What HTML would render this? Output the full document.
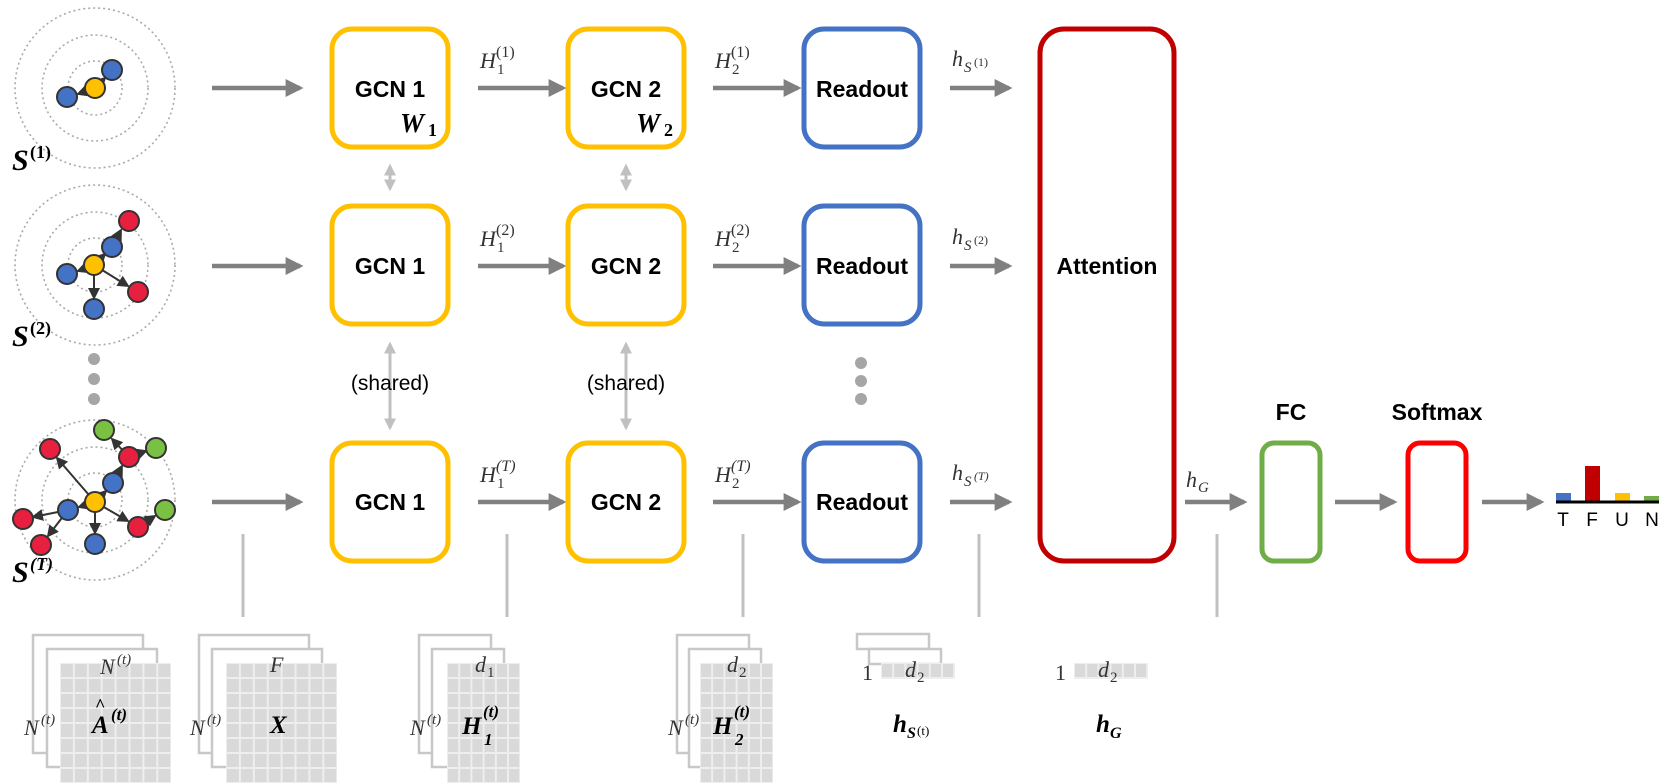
<!DOCTYPE html>
<html><head><meta charset="utf-8"><style>
html,body{margin:0;padding:0;background:#fff;width:1675px;height:783px;overflow:hidden}
svg{display:block}
.b{font-family:"Liberation Sans",sans-serif;font-weight:bold;fill:#000}
.m{font-family:"Liberation Serif",serif;font-style:italic;fill:#333}
.mb{font-family:"Liberation Serif",serif;font-style:italic;font-weight:bold;fill:#000}
.r{font-family:"Liberation Sans",sans-serif;fill:#000}
</style></head><body>
<svg width="1675" height="783" viewBox="0 0 1675 783" xmlns="http://www.w3.org/2000/svg">
<defs>
<marker id="ag" markerWidth="4" markerHeight="4" refX="3.2" refY="2" orient="auto"><path d="M0,0 L4,2 L0,4z" fill="#808080"/></marker>
<marker id="al" markerWidth="4" markerHeight="4" refX="3.2" refY="2" orient="auto-start-reverse"><path d="M0,0 L4,2 L0,4z" fill="#c0c0c0"/></marker>
<marker id="ad" markerWidth="6" markerHeight="6" refX="5" refY="3" orient="auto"><path d="M0,0 L6,3 L0,6z" fill="#333"/></marker>
<pattern id="grid" width="13.9" height="15" patternUnits="userSpaceOnUse"><rect x="1" y="1" width="11.9" height="13" fill="#d9d9d9"/></pattern>
<pattern id="grid2" width="12.2" height="15" patternUnits="userSpaceOnUse"><rect x="1" y="1" width="10.2" height="13" fill="#d9d9d9"/></pattern>
</defs>

<g fill="none" stroke="#aaa" stroke-width="1.6" stroke-dasharray="2,3">
<circle cx="95" cy="88" r="27"/><circle cx="95" cy="88" r="53"/><circle cx="95" cy="88" r="80"/>
<circle cx="95" cy="265" r="27"/><circle cx="95" cy="265" r="53"/><circle cx="95" cy="265" r="80"/>
<circle cx="95" cy="500" r="27"/><circle cx="95" cy="500" r="53"/><circle cx="95" cy="500" r="80"/>
</g>
<g stroke="#333" stroke-width="2" marker-end="url(#ad)">
<line x1="95" y1="88" x2="105" y2="78"/><line x1="95" y1="88" x2="78" y2="94"/>
<line x1="94" y1="265" x2="105" y2="254"/><line x1="112" y1="247" x2="121" y2="230"/><line x1="94" y1="265" x2="78" y2="271"/><line x1="94" y1="265" x2="128" y2="286"/><line x1="94" y1="265" x2="94" y2="298"/>
<line x1="95" y1="502" x2="106" y2="491"/><line x1="113" y1="483" x2="122" y2="466"/><line x1="129" y1="457" x2="112" y2="439"/><line x1="129" y1="457" x2="146" y2="451"/><line x1="95" y1="502" x2="57" y2="458"/><line x1="95" y1="502" x2="79" y2="507"/><line x1="68" y1="510" x2="33" y2="517"/><line x1="68" y1="510" x2="48" y2="536"/><line x1="95" y1="502" x2="95" y2="533"/><line x1="95" y1="502" x2="128" y2="521"/><line x1="138" y1="527" x2="155" y2="516"/>
</g>
<g stroke="#333" stroke-width="2">
<circle cx="95" cy="88" r="10" fill="#ffc000"/><circle cx="112" cy="70" r="10" fill="#4472c4"/><circle cx="67" cy="97" r="10" fill="#4472c4"/>
<circle cx="94" cy="265" r="10" fill="#ffc000"/><circle cx="112" cy="247" r="10" fill="#4472c4"/><circle cx="129" cy="221" r="10" fill="#e8203f"/><circle cx="67" cy="274" r="10" fill="#4472c4"/><circle cx="138" cy="292" r="10" fill="#e8203f"/><circle cx="94" cy="309" r="10" fill="#4472c4"/>
<circle cx="95" cy="502" r="10" fill="#ffc000"/><circle cx="113" cy="483" r="10" fill="#4472c4"/><circle cx="129" cy="457" r="10" fill="#e8203f"/><circle cx="104" cy="430" r="10" fill="#7ac143"/><circle cx="156" cy="448" r="10" fill="#7ac143"/><circle cx="50" cy="449" r="10" fill="#e8203f"/><circle cx="68" cy="510" r="10" fill="#4472c4"/><circle cx="23" cy="519" r="10" fill="#e8203f"/><circle cx="41" cy="545" r="10" fill="#e8203f"/><circle cx="95" cy="544" r="10" fill="#4472c4"/><circle cx="138" cy="527" r="10" fill="#e8203f"/><circle cx="165" cy="510" r="10" fill="#7ac143"/>
</g>
<text x="12" y="170" class="mb" font-size="30">S</text><text x="30" y="158" font-family="Liberation Serif" font-weight="bold" font-size="18">(1)</text>
<text x="12" y="346" class="mb" font-size="30">S</text><text x="30" y="334" font-family="Liberation Serif" font-weight="bold" font-size="18">(2)</text>
<text x="12" y="582" class="mb" font-size="30">S</text><text x="30" y="570" font-family="Liberation Serif" font-weight="bold" font-style="italic" font-size="18">(T)</text>
<g fill="#a6a6a6"><circle cx="94" cy="359" r="6"/><circle cx="94" cy="379" r="6"/><circle cx="94" cy="399" r="6"/>
<circle cx="861" cy="363" r="6"/><circle cx="861" cy="381" r="6"/><circle cx="861" cy="399" r="6"/></g>

<g stroke="#808080" stroke-width="4.5" marker-end="url(#ag)">
<line x1="212" y1="88" x2="300" y2="88"/><line x1="212" y1="266" x2="300" y2="266"/><line x1="212" y1="502" x2="300" y2="502"/>
<line x1="478" y1="88" x2="563" y2="88"/><line x1="478" y1="266" x2="563" y2="266"/><line x1="478" y1="502" x2="563" y2="502"/>
<line x1="713" y1="88" x2="798" y2="88"/><line x1="713" y1="266" x2="798" y2="266"/><line x1="713" y1="502" x2="798" y2="502"/>
<line x1="950" y1="88" x2="1009" y2="88"/><line x1="950" y1="266" x2="1009" y2="266"/><line x1="950" y1="502" x2="1009" y2="502"/>
<line x1="1185" y1="502" x2="1244" y2="502"/><line x1="1335" y1="502" x2="1394" y2="502"/><line x1="1482" y1="502" x2="1541" y2="502"/>
</g>
<g stroke="#c0c0c0" stroke-width="3" marker-start="url(#al)" marker-end="url(#al)">
<line x1="390" y1="166" x2="390" y2="189"/><line x1="626" y1="166" x2="626" y2="189"/>
<line x1="390" y1="344" x2="390" y2="428"/><line x1="626" y1="344" x2="626" y2="428"/>
</g>
<text x="390" y="390" text-anchor="middle" class="r" font-size="21">(shared)</text>
<text x="626" y="390" text-anchor="middle" class="r" font-size="21">(shared)</text>

<g fill="none" stroke-width="5">
<rect x="332" y="29" width="116" height="118" rx="20" stroke="#ffc000"/>
<rect x="332" y="206" width="116" height="118" rx="20" stroke="#ffc000"/>
<rect x="332" y="443" width="116" height="118" rx="20" stroke="#ffc000"/>
<rect x="568" y="29" width="116" height="118" rx="20" stroke="#ffc000"/>
<rect x="568" y="206" width="116" height="118" rx="20" stroke="#ffc000"/>
<rect x="568" y="443" width="116" height="118" rx="20" stroke="#ffc000"/>
<rect x="804" y="29" width="116" height="118" rx="20" stroke="#4472c4"/>
<rect x="804" y="206" width="116" height="118" rx="20" stroke="#4472c4"/>
<rect x="804" y="443" width="116" height="118" rx="20" stroke="#4472c4"/>
<rect x="1040" y="29" width="134" height="532" rx="24" stroke="#c00000"/>
<rect x="1262" y="443" width="58" height="118" rx="12" stroke="#70ad47"/>
<rect x="1408" y="443" width="58" height="118" rx="12" stroke="#ff0000"/>
</g>
<g class="b" font-size="23" text-anchor="middle">
<text x="390" y="97">GCN 1</text><text x="390" y="274">GCN 1</text><text x="390" y="510">GCN 1</text>
<text x="626" y="97">GCN 2</text><text x="626" y="274">GCN 2</text><text x="626" y="510">GCN 2</text>
<text x="862" y="97">Readout</text><text x="862" y="274">Readout</text><text x="862" y="510">Readout</text>
<text x="1107" y="274">Attention</text>
<text x="1291" y="420">FC</text><text x="1437" y="420">Softmax</text>
</g>
<text x="400" y="132" class="mb" font-size="27">W</text><text x="428" y="136" font-family="Liberation Serif" font-weight="bold" font-size="18">1</text>
<text x="636" y="132" class="mb" font-size="27">W</text><text x="664" y="136" font-family="Liberation Serif" font-weight="bold" font-size="18">2</text>

<g class="m" font-size="22">
<text x="480" y="68">H</text><text x="480" y="246">H</text><text x="480" y="482">H</text>
<text x="715" y="68">H</text><text x="715" y="246">H</text><text x="715" y="482">H</text>
<text x="952" y="66">h</text><text x="952" y="244">h</text><text x="952" y="480">h</text>
<text x="1186" y="487">h</text>
</g>
<g font-family="Liberation Serif" font-size="15" fill="#333">
<text x="497" y="74">1</text><text x="497" y="252">1</text><text x="497" y="488">1</text>
<text x="732" y="74">2</text><text x="732" y="252">2</text><text x="732" y="488">2</text>
<text x="496" y="57" font-size="16">(1)</text><text x="496" y="235" font-size="16">(2)</text><text x="496" y="471" font-size="16" font-style="italic">(T)</text>
<text x="731" y="57" font-size="16">(1)</text><text x="731" y="235" font-size="16">(2)</text><text x="731" y="471" font-size="16" font-style="italic">(T)</text>
<text x="964" y="72" font-style="italic">S</text><text x="974" y="66" font-size="12">(1)</text>
<text x="964" y="250" font-style="italic">S</text><text x="974" y="244" font-size="12">(2)</text>
<text x="964" y="486" font-style="italic">S</text><text x="974" y="480" font-size="12" font-style="italic">(T)</text>
<text x="1198" y="492" font-style="italic">G</text>
</g>

<rect x="1556" y="493" width="15" height="9" fill="#4472c4"/>
<rect x="1585" y="466" width="15" height="36" fill="#c00000"/>
<rect x="1615" y="493" width="15" height="9" fill="#ffc000"/>
<rect x="1644" y="496" width="15" height="6" fill="#70ad47"/>
<line x1="1556" y1="502" x2="1659" y2="502" stroke="#000" stroke-width="3"/>
<g class="r" font-size="19" text-anchor="middle"><text x="1563" y="526">T</text><text x="1592" y="526">F</text><text x="1622" y="526">U</text><text x="1652" y="526">N</text></g>

<g stroke="#c0c0c0" stroke-width="3">
<line x1="243" y1="534" x2="243" y2="617"/><line x1="507" y1="534" x2="507" y2="617"/><line x1="743" y1="534" x2="743" y2="617"/><line x1="979" y1="534" x2="979" y2="617"/><line x1="1217" y1="534" x2="1217" y2="617"/>
</g>

<g fill="#fff" stroke="#c8c8c8" stroke-width="2.5">
<rect x="33" y="635" width="110" height="118"/><rect x="47" y="649" width="110" height="118"/>
<rect x="199" y="635" width="110" height="118"/><rect x="212" y="649" width="110" height="118"/>
<rect x="419" y="635" width="72" height="118"/><rect x="432" y="649" width="72" height="118"/>
<rect x="677" y="635" width="72" height="118"/><rect x="689" y="649" width="72" height="118"/>
<rect x="857" y="634" width="72" height="15"/><rect x="869" y="649" width="72" height="15"/>
</g>
<g fill="#eee"><rect x="60" y="663" width="111" height="120"/><rect x="226" y="663" width="111" height="120"/><rect x="447" y="663" width="73" height="120"/><rect x="700" y="663" width="73" height="120"/><rect x="881" y="663" width="74" height="16"/><rect x="1074" y="663" width="74" height="16"/></g>
<rect x="0" y="0" width="111" height="120" fill="url(#grid)" transform="translate(60 663)"/>
<rect x="0" y="0" width="111" height="120" fill="url(#grid)" transform="translate(226 663)"/>
<rect x="0" y="0" width="73" height="120" fill="url(#grid2)" transform="translate(447 663)"/>
<rect x="0" y="0" width="73" height="120" fill="url(#grid2)" transform="translate(700 663)"/>
<rect x="0" y="0" width="74" height="16" fill="url(#grid2)" transform="translate(881 663)"/>
<rect x="0" y="0" width="74" height="16" fill="url(#grid2)" transform="translate(1074 663)"/>

<g class="m" font-size="22" fill="#444">
<text x="100" y="674">N</text><text x="117" y="664" font-size="15">(t)</text>
<text x="24" y="735">N</text><text x="41" y="724" font-size="15">(t)</text>
<text x="270" y="672">F</text>
<text x="190" y="735">N</text><text x="207" y="724" font-size="15">(t)</text>
<text x="475" y="672">d</text><text x="487" y="677" font-size="15" font-style="normal">1</text>
<text x="410" y="735">N</text><text x="427" y="724" font-size="15">(t)</text>
<text x="727" y="672">d</text><text x="739" y="677" font-size="15" font-style="normal">2</text>
<text x="668" y="735">N</text><text x="685" y="724" font-size="15">(t)</text>
<text x="905" y="677">d</text><text x="917" y="682" font-size="15" font-style="normal">2</text>
<text x="1098" y="677">d</text><text x="1110" y="682" font-size="15" font-style="normal">2</text>
<text x="862" y="680" font-style="normal">1</text><text x="1055" y="680" font-style="normal">1</text>
</g>
<g class="mb" font-size="25">
<text x="92" y="733">A</text><text x="95" y="711" font-style="normal" font-size="18">^</text><text x="111" y="720" font-size="17">(t)</text>
<text x="270" y="733">X</text>
<text x="462" y="734">H</text><text x="484" y="745" font-size="17">1</text><text x="483" y="717" font-size="17">(t)</text>
<text x="713" y="734">H</text><text x="735" y="745" font-size="17">2</text><text x="734" y="717" font-size="17">(t)</text>
<text x="893" y="732">h</text><text x="907" y="738" font-size="16">S</text><text x="917" y="735" font-size="13" font-style="normal" font-weight="normal">(t)</text>
<text x="1096" y="732">h</text><text x="1110" y="738" font-size="16">G</text>
</g>
</svg>
</body></html>
